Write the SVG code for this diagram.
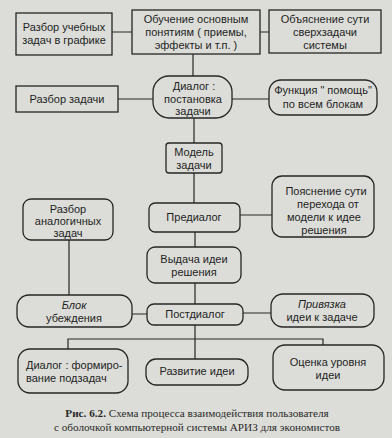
<svg xmlns="http://www.w3.org/2000/svg" width="392" height="438" viewBox="0 0 392 438">
<style>
.b{fill:none;stroke:#262626;stroke-width:1.3}
.c{fill:none;stroke:#262626;stroke-width:1.2}
text{font-family:"Liberation Sans",Arial,sans-serif;font-size:11px;fill:#1e1e1e;text-anchor:middle}
text.l{text-anchor:start}
.i{font-style:italic}
.cap{font-family:"Liberation Serif","Times New Roman",serif;font-size:11.2px;fill:#2a2a2a}
</style>
<rect width="392" height="438" fill="#dcddd8"/>
<g id="connectors">
<path class="c" d="M112 32H132M260 32H269M193 54V76M118 99H153M232 99H269M194 118V143M194 173V203M240 215H272M195 232V247M195 283V304M132 314H147M243 313H271M69 240V295M195 325V359M68 349V339H323V345"/>
</g>
<g id="n1"><rect class="b" x="16" y="13" width="96" height="42"/><text x="64" y="31">Разбор учебных</text><text x="64" y="44">задач в графике</text></g>
<g id="n2"><rect class="b" x="132" y="10" width="128" height="44"/><text x="196" y="23">Обучение основным</text><text x="196" y="36">понятиям  ( приемы,</text><text x="196" y="49">эффекты и т.п. )</text></g>
<g id="n3"><rect class="b" x="269" y="10" width="112" height="43"/><text x="325" y="23">Объяснение сути</text><text x="325" y="36">сверхзадачи</text><text x="325" y="49">системы</text></g>
<g id="n4"><rect class="b" x="16" y="86" width="102" height="26"/><text x="67" y="103">Разбор задачи</text></g>
<g id="n5"><rect class="b" x="153" y="76" width="79" height="42" rx="16"/><text x="194" y="90">Диалог :</text><text x="193" y="103">постановка</text><text x="193" y="115">задачи</text></g>
<g id="n6"><rect class="b" x="269" y="80" width="108" height="35" rx="12"/><text x="323" y="94">Функция " помощь"</text><text x="323" y="108">по всем блокам</text></g>
<g id="n7"><rect class="b" x="166" y="143" width="56" height="30" rx="3"/><text x="194" y="156">Модель</text><text x="194" y="169">задачи</text></g>
<g id="n8"><rect class="b" x="149" y="203" width="91" height="29" rx="6"/><text x="194" y="221">Предиалог</text></g>
<g id="n9"><rect class="b" x="272" y="176" width="102" height="61" rx="10"/><text x="326" y="195">Пояснение сути</text><text x="328" y="208">перехода от</text><text x="324" y="221">модели к идее</text><text x="324" y="234">решения</text></g>
<g id="n10"><rect class="b" x="147" y="247" width="94" height="36" rx="8"/><text x="194" y="263">Выдача  идеи</text><text x="194" y="276">решения</text></g>
<g id="n11"><rect class="b" x="23" y="199" width="90" height="41" rx="8"/><text x="68" y="213">Разбор</text><text x="68" y="225">аналогичных</text><text x="68" y="237">задач</text></g>
<g id="n12"><rect class="b" x="17" y="295" width="115" height="32" rx="12"/><text class="i" x="74" y="309">Блок</text><text x="74" y="322">убеждения</text></g>
<g id="n13"><rect class="b" x="147" y="304" width="96" height="21" rx="7"/><text x="195" y="318">Постдиалог</text></g>
<g id="n14"><rect class="b" x="271" y="294" width="103" height="33" rx="12"/><text class="i" x="322" y="308">Привязка</text><text x="322" y="321">идеи к задаче</text></g>
<g id="n15"><rect class="b" x="18" y="349" width="110" height="44" rx="12"/><text class="l" x="26" y="369">Диалог : формиро-</text><text class="l" x="26" y="382">вание подзадач</text></g>
<g id="n16"><rect class="b" x="146" y="359" width="102" height="26" rx="10"/><text x="197" y="375">Развитие идеи</text></g>
<g id="n17"><rect class="b" x="273" y="345" width="111" height="45" rx="12"/><text x="328" y="366">Оценка  уровня</text><text x="328" y="379">идеи</text></g>
<text class="cap" x="197" y="417"><tspan font-weight="bold">Рис. 6.2.</tspan> Схема процесса взаимодействия пользователя</text>
<text class="cap" x="197" y="431">с оболочкой компьютерной системы АРИЗ для экономистов</text>
</svg>
